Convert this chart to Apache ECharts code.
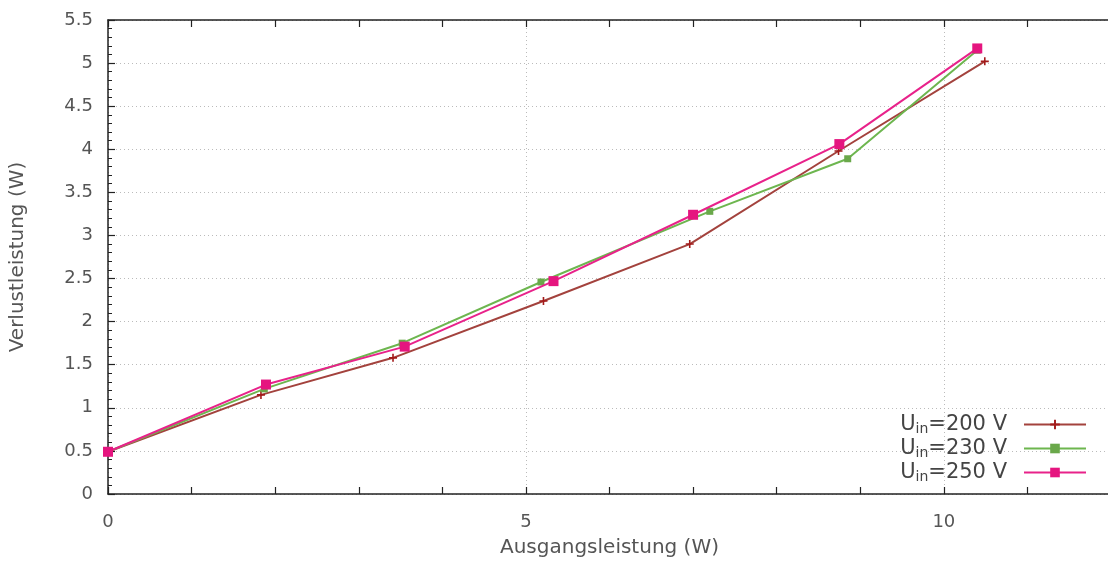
<!DOCTYPE html>
<html>
<head>
    <meta charset="utf-8">
    <title>Verlustleistung</title>
    <script src="https://cdn.jsdelivr.net/npm/echarts@6/dist/echarts.min.js"></script>
    <style>
        html, body { margin: 0; padding: 0; overflow: hidden; background: #fff; }
    </style>
</head>
<body>
    <div id="main" style="width: 1114px;height:567px;"></div>

    <script type="text/javascript">
        // Ausgangsleistung (W) -> Verlustleistung (W)
        var x200 = [0, 1.83, 3.41, 5.21, 6.96, 8.74, 10.49];
        var y200 = [0.49, 1.15, 1.58, 2.24, 2.90, 3.98, 5.02];

        var x230 = [0, 1.87, 3.52, 5.18, 7.20, 8.85, 10.40];
        var y230 = [0.49, 1.22, 1.75, 2.46, 3.28, 3.89, 5.15];

        var x250 = [0, 1.89, 3.55, 5.33, 7.00, 8.75, 10.40];
        var y250 = [0.49, 1.27, 1.71, 2.47, 3.24, 4.06, 5.17];

        var seriesNames = ['200V', '230V', '250V'];
        var xTicks = [0, 5, 10];

        function pairs(xs, ys) {
            return xs.map(function (x, i) { return [x, ys[i]]; });
        }

        var plusSymbol = 'path://M4,0h2v4h4v2h-4v4h-2v-4h-4v-2h4z';
        var font = 'DejaVu Sans';
        var txt = '#555';

        var myChart = echarts.init(document.getElementById('main'));

        var axisCommon = {
            axisLine: { onZero: false, lineStyle: { color: '#222', width: 1.5 } },
            axisTick: { inside: true, length: 7, lineStyle: { color: '#222', width: 1.2 } }
        };

        option = {
            animation: false,
            textStyle: { fontFamily: font },
            grid: { left: 108, right: 0, top: 20, bottom: 73, show: false },
            legend: {
                orient: 'vertical',
                right: 22,
                bottom: 78,
                align: 'right',
                itemWidth: 62,
                itemHeight: 12,
                itemGap: 2,
                data: seriesNames,
                formatter: function (name) {
                    return '{u|U}{s|in}{u|=' + name.replace('V', ' V') + '}';
                },
                textStyle: {
                    rich: {
                        u: { fontFamily: font, fontSize: 21, color: '#444' },
                        s: { fontFamily: font, fontSize: 14, color: '#444', verticalAlign: 'bottom', padding: [9, 0, 0, 0] }
                    },
                    padding: [0, 12, 0, 0]
                }
            },
            xAxis: [
                Object.assign({}, axisCommon, {
                    type: 'value',
                    min: 0,
                    max: 12,
                    interval: 5,
                    position: 'bottom',
                    minorTick: { show: true, splitNumber: 5, length: 7, lineStyle: { color: '#222', width: 1.2 } },
                    axisLabel: {
                        margin: 19, fontSize: 18, color: txt, fontFamily: font,
                        formatter: function (v) { return xTicks.indexOf(v) >= 0 ? String(v) : ''; }
                    },
                    splitLine: { show: true, lineStyle: { color: '#bbb', type: [1, 3], width: 1 } },
                    name: 'Ausgangsleistung (W)',
                    nameLocation: 'middle',
                    nameGap: 44,
                    nameTextStyle: { fontSize: 20, color: txt, fontFamily: font }
                }),
                Object.assign({}, axisCommon, {
                    type: 'value',
                    min: 0,
                    max: 12,
                    interval: 5,
                    position: 'top',
                    minorTick: { show: true, splitNumber: 5, length: 7, lineStyle: { color: '#222', width: 1.2 } },
                    axisLabel: { show: false },
                    splitLine: { show: false }
                })
            ],
            yAxis: [
                Object.assign({}, axisCommon, {
                    type: 'value',
                    min: 0,
                    max: 5.5,
                    interval: 0.5,
                    minorTick: { show: true, splitNumber: 5, length: 4, lineStyle: { color: '#222', width: 1 } },
                    axisLabel: { margin: 15, fontSize: 18, color: txt, fontFamily: font },
                    splitLine: { show: true, lineStyle: { color: '#bbb', type: [1, 3], width: 1 } },
                    name: 'Verlustleistung (W)',
                    nameLocation: 'middle',
                    nameGap: 80,
                    nameTextStyle: { fontSize: 20, color: txt, fontFamily: font }
                })
            ],
            series: [
                {
                    name: seriesNames[0],
                    type: 'line',
                    data: pairs(x200, y200),
                    symbol: plusSymbol,
                    symbolSize: 8,
                    lineStyle: { color: '#a3423d', width: 2 },
                    itemStyle: { color: '#a31a1a' },
                    z: 2
                },
                {
                    name: seriesNames[1],
                    type: 'line',
                    data: pairs(x230, y230),
                    symbol: 'rect',
                    symbolSize: 7,
                    lineStyle: { color: '#6db64f', width: 2 },
                    itemStyle: { color: '#6aa84a' },
                    z: 3
                },
                {
                    name: seriesNames[2],
                    type: 'line',
                    data: pairs(x250, y250),
                    symbol: 'rect',
                    symbolSize: 10,
                    lineStyle: { color: '#e8228a', width: 2 },
                    itemStyle: { color: '#e5157f' },
                    z: 4
                }
            ]
        };

        myChart.setOption(option);
    </script>
</body>
</html>
